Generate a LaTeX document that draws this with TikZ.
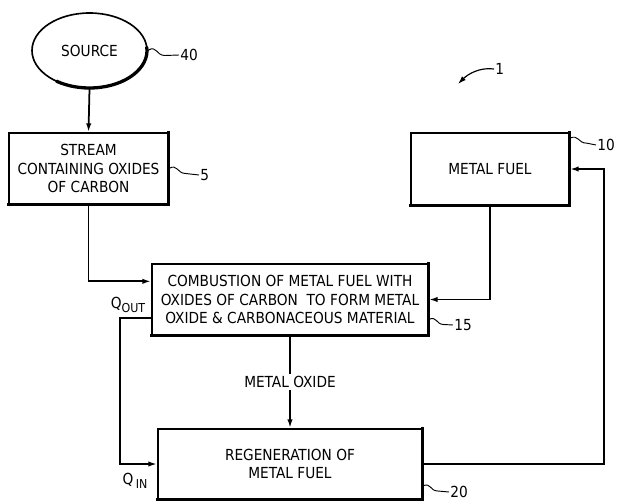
\documentclass[tikz,border=0pt]{standalone}
\usepackage{fontspec}
\setmainfont{DejaVu Sans Condensed}
\usetikzlibrary{shapes.geometric, arrows.meta, calc}

\begin{document}
\begin{tikzpicture}[x=0.03cm, y=-0.03cm, font=\fontsize{13}{15.5}\selectfont, align=center,
    box/.style={draw, line width=1.4pt, inner sep=0pt},
    heavy/.style={line width=2.8pt, line cap=rect},
    flow/.style={line width=1.5pt, -{Latex[length=7.5pt,width=4.5pt]}},
    lead/.style={line width=0.8pt},
    numeral/.style={anchor=west, inner sep=1pt}]
    \def\u{0.03cm}
    \def\sub#1{\raisebox{-0.45ex}{\fontsize{10.5}{12}\selectfont #1}}
    \useasboundingbox (0,0) rectangle (617,501);
    % blocks
    \node[box, ellipse, minimum width=115*\u, minimum height=75*\u] (src) at (89.5,50.5) {SOURCE};
    \node[box, minimum width=159*\u, minimum height=71*\u] (stream) at (88.5,168.5) {STREAM\\CONTAINING OXIDES\\OF CARBON};
    \node[box, minimum width=158*\u, minimum height=72*\u] (fuel) at (490,169) {METAL FUEL};
    \node[box, minimum width=276*\u, minimum height=71*\u] (comb) at (290,299.5) {COMBUSTION OF METAL FUEL WITH\\OXIDES OF CARBON\ \ TO FORM METAL\\OXIDE \& CARBONACEOUS MATERIAL};
    \node[box, minimum width=264*\u, minimum height=70*\u] (regen) at (290,464) {REGENERATION OF\\METAL FUEL};
    \foreach \n in {stream, fuel, comb, regen}
        \draw[heavy] (\n.north east) -- (\n.south east) -- (\n.south west);
    \draw[heavy, line cap=round] (src.center) ++(5:1.725cm and 1.125cm)
        arc[start angle=5, end angle=-125, x radius=1.725cm, y radius=1.125cm];
    % flows
    \draw[flow] (src.south) -- (stream.north);
    \coordinate (cin) at ($(comb.north west)!0.25!(comb.south west)$);
    \coordinate (qout) at ($(comb.north west)!0.75!(comb.south west)$);
    \draw[flow] (stream.south) |- (cin);
    \draw[flow] (fuel.south) |- (comb.east);
    \draw[flow] (comb.south) -- node[fill=white, inner sep=2pt] (mox) {METAL OXIDE} (regen.north);
    \draw[flow] (qout) -- ++(-31,0) |- (regen.west);
    \draw[flow] (regen.east) -- ++(181,0) |- (fuel.east);
    \node (qo) at (128,305) {Q\sub{OUT}};
    \node (qi) at (135,481) {Q\,\sub{IN}};
    % reference numerals
    \node[numeral] (n40) at (179,55) {40};
    \node[numeral] (n5) at (199,175) {5};
    \node[numeral] (n10) at (596,145) {10};
    \node[numeral] (n15) at (453,325) {15};
    \node[numeral] (n20) at (449,492) {20};
    \node[numeral] (n1) at (494,69) {1};
    \draw[lead] (src.east) .. controls +(9,-6) and +(-9,0) .. ++(17,5) -- (n40.west);
    \draw[lead] (stream.east) .. controls +(9,-5) and +(-9,0) .. ++(17,5) -- (n5.west);
    \draw[lead] (fuel.north east) ++(0,6) .. controls +(9,-4) and +(-9,0) .. ++(17,5) -- (n10.west);
    \draw[lead] (comb.east) ++(0,20) .. controls +(8,-4) and +(-8,0) .. ++(15,5) -- (n15.west);
    \draw[lead] (regen.east) ++(0,22) .. controls +(8,-4) and +(-8,0) .. ++(15,5) -- (n20.west);
    \coordinate (tip1) at (458,84);
    \draw[lead, line width=1pt, -{Latex[length=7pt,width=4.5pt]}] (n1.west) .. controls +(-14,-2) and +(10,-10) .. (tip1);
\end{tikzpicture}
\end{document}
